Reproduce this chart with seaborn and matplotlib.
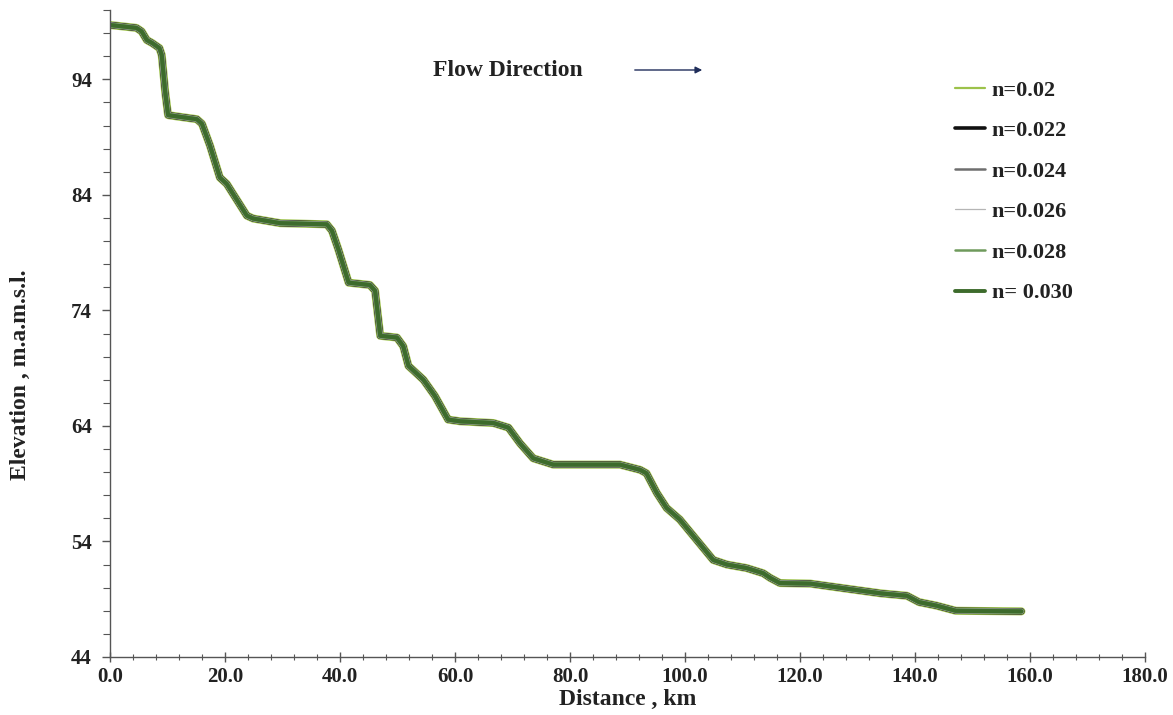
import matplotlib
matplotlib.use("Agg")
import matplotlib.pyplot as plt
from matplotlib.lines import Line2D
from matplotlib.ticker import MultipleLocator, FormatStrFormatter
import seaborn as sns
import pandas as pd

# ---- data ----
series_labels = ["n=0.02", "n=0.022", "n=0.024", "n=0.026", "n=0.028", "n= 0.030"]
series_colors = ["#9cc24a", "#111111", "#6e6e6e", "#b5b5b5", "#6f9a5c", "#3d6b2c"]

distance_km = [0.0, 4.6, 5.5, 6.4, 7.3, 8.6, 9.0, 9.6, 10.1, 12.2, 15.1, 16.0,
               17.4, 19.1, 20.3, 23.8, 24.9, 29.6, 37.7, 38.6, 39.7, 41.5,
               45.2, 46.1, 47.0, 49.9, 51.0, 51.9, 54.5, 56.5, 58.8, 60.9,
               66.7, 69.3, 71.3, 73.6, 77.1, 88.7, 92.2, 93.3, 95.1, 96.8,
               99.1, 102.0, 104.9, 107.3, 110.7, 113.6, 114.8, 116.5, 121.8,
               128.3, 134.2, 138.6, 140.7, 143.7, 147.1, 158.5]
# water-surface profiles of the six Manning-n runs coincide at this scale
elevation_m = [98.7, 98.45, 98.15, 97.4, 97.15, 96.7, 96.1, 92.9, 90.9, 90.75,
               90.55, 90.15, 88.25, 85.5, 84.95, 82.2, 81.95, 81.55, 81.45,
               80.9, 79.3, 76.4, 76.2, 75.7, 71.8, 71.65, 70.9, 69.2, 68.0,
               66.6, 64.55, 64.4, 64.25, 63.85, 62.5, 61.2, 60.65, 60.65,
               60.2, 59.9, 58.2, 56.9, 55.9, 54.15, 52.4, 52.0, 51.7, 51.25,
               50.85, 50.4, 50.35, 49.9, 49.5, 49.3, 48.75, 48.45, 48.0, 47.95]

plot_widths = [5.8, 4.6, 4.2, 3.8, 3.6, 3.0]
legend_widths = [1.6, 2.6, 1.8, 0.9, 1.8, 2.8]

rows = []
for lab in series_labels:
    for d, e in zip(distance_km, elevation_m):
        rows.append({"n": lab, "Distance": d, "Elevation": e})
df = pd.DataFrame(rows)

sns.set_style("white")
plt.rcParams["font.family"] = ["Liberation Serif", "DejaVu Serif"]
plt.rcParams["font.weight"] = "bold"

fig = plt.figure(figsize=(11.73, 7.15), dpi=100)
ax = fig.add_axes([110 / 1173, 1 - 657 / 715, (1145 - 110) / 1173, (657 - 10) / 715])

for lab, col, lw in zip(series_labels, series_colors, plot_widths):
    sns.lineplot(data=df[df["n"] == lab], x="Distance", y="Elevation",
                 color=col, linewidth=lw, ax=ax, legend=False,
                 solid_joinstyle="round", solid_capstyle="round")

ax.set_xlim(0, 180)
ax.set_ylim(44, 100)
ax.xaxis.set_major_locator(MultipleLocator(20))
ax.xaxis.set_minor_locator(MultipleLocator(4))
ax.set_yticks([44, 54, 64, 74, 84, 94])
ax.yaxis.set_minor_locator(MultipleLocator(2))
ax.xaxis.set_major_formatter(FormatStrFormatter("%.1f"))

for s in ["top", "right"]:
    ax.spines[s].set_visible(False)
for s in ["left", "bottom"]:
    ax.spines[s].set_color("#555555")
    ax.spines[s].set_linewidth(1.0)

ax.tick_params(which="both", bottom=True, left=True)
ax.tick_params(axis="x", which="major", direction="inout", length=7, width=1,
               color="#555555", labelsize=15, labelcolor="#222222", pad=4)
ax.tick_params(axis="x", which="minor", direction="inout", length=5, width=0.8,
               color="#555555")
ax.tick_params(axis="y", which="major", direction="out", length=6, width=1,
               color="#555555", labelsize=15, labelcolor="#222222", pad=7)
ax.tick_params(axis="y", which="minor", direction="out", length=5, width=0.8,
               color="#555555")
for t in ax.get_xticklabels() + ax.get_yticklabels():
    t.set_fontweight("bold")

ax.set_xlabel("Distance , km", fontsize=17, fontweight="bold", color="#222222")
ax.set_ylabel("Elevation , m.a.m.s.l.", fontsize=17, fontweight="bold", color="#222222")
ax.xaxis.set_label_coords(0.5, -0.066)
ax.xaxis.label.set_va("center")
ax.yaxis.set_label_coords(-0.087, 0.436)
ax.yaxis.label.set_va("center")

ax.text((433 - 110) / 1035, (657 - 70) / 647, "Flow Direction", transform=ax.transAxes,
        fontsize=17, fontweight="bold", color="#222222", ha="left", va="center")
ax.annotate("", xy=((705 - 110) / 1035, (657 - 70) / 647), xycoords="axes fraction",
            xytext=((632 - 110) / 1035, (657 - 70) / 647), textcoords="axes fraction",
            arrowprops=dict(arrowstyle="-|>", color="#1f2d5a", lw=1.0,
                            mutation_scale=10))

handles = [Line2D([0], [0], color=c, lw=w) for c, w in zip(series_colors, legend_widths)]
leg = fig.legend(handles, series_labels, loc="upper left",
                 bbox_to_anchor=(955 / 1173, 1 - 80 / 715), frameon=False,
                 fontsize=16, handlelength=1.35, handletextpad=0.3,
                 labelspacing=0.9, borderpad=0, borderaxespad=0)
for t in leg.get_texts():
    t.set_fontweight("bold")
    t.set_color("#222222")

fig.savefig("out.png", dpi=100, facecolor="white")
